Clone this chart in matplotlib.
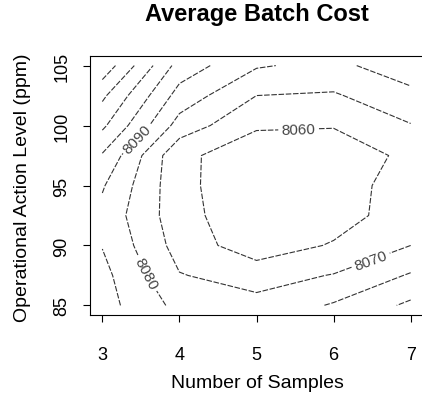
import matplotlib
matplotlib.use('Agg')
import matplotlib.pyplot as plt
import numpy as np

plt.rcParams['font.family'] = ['Liberation Sans', 'DejaVu Sans']

# grid
samples = [3, 4, 5, 6, 7]
action_level = [85, 87.5, 90, 92.5, 95, 97.5, 100, 102.5, 105]
# one row per action level, one column per number of samples
batch_cost = [
    [8094, 8077, 8073, 8081, 8092],
    [8093, 8070.5, 8066, 8070.5, 8081],
    [8089.6, 8066, 8054, 8061, 8070],
    [8087, 8064, 8052, 8055, 8066],
    [8091, 8063, 8052, 8053, 8067],
    [8099, 8062, 8055, 8055, 8062],
    [8112, 8076, 8061, 8060.5, 8069.5],
    [8122, 8086, 8070, 8069, 8076.7],
    [8137, 8096, 8081, 8077, 8087],
]
levels = [8060, 8070, 8080, 8090, 8100, 8110, 8120, 8130]

x_ticks = [3, 4, 5, 6, 7]
y_ticks = [85, 90, 95, 100, 105]

fig = plt.figure(figsize=(4.22, 4.02), dpi=100)
ax = fig.add_axes([90 / 422, 86 / 402, 333 / 422, 259 / 402])

X, Y = np.meshgrid(samples, action_level)
Z = np.array(batch_cost)
cs = ax.contour(X, Y, Z, levels=levels, colors='#333333',
                linewidths=0.8, linestyles=[(0, (5, 1.5))])

# label positions near where the original puts them
label_spots = [(5.55, 98.9), (6.45, 89.3), (3.55, 87.6), (3.5, 98.6)]
ax.clabel(cs, levels=[8060, 8070, 8080, 8090], manual=label_spots,
          inline=True, fmt='%d', fontsize=11, colors='#444444')

ax.set_xlim(2.84, 7.16)
ax.set_ylim(84.2, 105.8)
ax.set_xticks(x_ticks)
ax.set_yticks(y_ticks)
ax.set_yticklabels([str(v) for v in y_ticks], rotation=90, va='center')
ax.tick_params(direction='out', length=5, width=0.8, labelsize=13)
ax.tick_params(axis='x', pad=17)
ax.tick_params(axis='y', pad=9)
ax.spines['right'].set_visible(False)
for s in ['top', 'bottom', 'left']:
    ax.spines[s].set_linewidth(0.8)

ax.set_xlabel('Number of Samples', fontsize=14)
ax.xaxis.set_label_coords(0.5015, -0.259)
ax.xaxis.label.set_va('center')
ax.set_ylabel('Operational Action Level (ppm)', fontsize=14)
ax.yaxis.set_label_coords(-0.204, 0.494)
ax.yaxis.label.set_va('center')
ax.set_title('Average Batch Cost', fontsize=17, fontweight='bold',
             y=1.166, va='center', pad=0)

fig.savefig('out.png', dpi=100)
